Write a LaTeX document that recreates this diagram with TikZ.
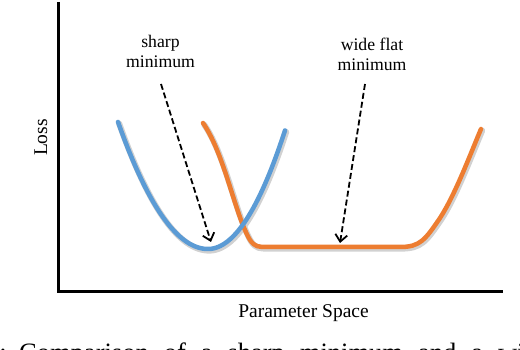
\documentclass[tikz,border=0pt]{standalone}
\usepackage{fontspec}
\setmainfont{Liberation Serif}
\usetikzlibrary{arrows.meta}
\definecolor{cblue}{HTML}{5B9BD5}
\definecolor{corange}{HTML}{ED7D31}
\begin{document}
\begin{tikzpicture}[x=1pt,y=-1pt,
  axis/.style={line width=3pt, line join=miter},
  curve/.style={line width=4.5pt, line cap=round},
  shadowline/.style={line width=6pt, black!18, line cap=round, shift={(1.2,1.6)}},
  annot/.style={font=\fontsize{17.7}{20}\selectfont, align=center, inner sep=0},
  pointer/.style={line width=1.8pt, dash pattern=on 6pt off 3pt, -{Straight Barb[length=7pt,width=12pt]}},
  axlabel/.style={font=\fontsize{19.5}{22}\selectfont, inner sep=0},
  captext/.style={font=\fontsize{26.5}{30}\selectfont, inner sep=0}]
\useasboundingbox (0,0) rectangle (520,350);
\clip (0,0) rectangle (520,350);

% axes
\coordinate (ytop) at (58,2);
\coordinate (orig) at (58,291);
\coordinate (xend) at (503,291);
\draw[axis] (ytop) -- (orig) -- (xend);

% shadows
\draw[shadowline] plot[domain=118:208, samples=50] (\x,{249-0.01568*(\x-208)^2})
  -- plot[domain=208:285, samples=50] (\x,{249-0.02*(\x-208)^2});
\draw[shadowline] (203,123) .. controls (225,155) and (235,215) .. (250,240)
  .. controls (255,247) and (258,247) .. (268,247) -- (400,247)
  .. controls (420,247) and (425,240) .. (440,218)
  .. controls (455,195) and (470,155) .. (481,129);

% orange: wide flat minimum
\draw[curve, corange] (203,123) .. controls (225,155) and (235,215) .. (250,240)
  .. controls (255,247) and (258,247) .. (268,247) -- (400,247)
  .. controls (420,247) and (425,240) .. (440,218)
  .. controls (455,195) and (470,155) .. (481,129);

% blue: sharp minimum
\draw[curve, cblue] plot[domain=118:208, samples=50] (\x,{249-0.01568*(\x-208)^2})
  -- plot[domain=208:285, samples=50] (\x,{249-0.02*(\x-208)^2});

% labels
\node[axlabel, rotate=90, anchor=base] (loss) at (47,137.5) {Loss};
\node[axlabel, anchor=base] (pspace) at (303.5,317) {Parameter Space};

\node[annot, anchor=north] (sharp) at (160.5,35.5) {sharp\\minimum};
\node[annot, anchor=north] (wide) at (372,37.5) {wide flat\\minimum};

\coordinate (s1) at (161,84);
\coordinate (s2) at (211,242);
\coordinate (w1) at (365,84);
\coordinate (w2) at (340,243);
\draw[pointer] (s1) -- (s2);
\draw[pointer] (w1) -- (w2);

% clipped caption
\node[captext, anchor=base east] (fignum) at (7,361) {1:};
\node[captext, anchor=base west] (cap) at (19,361) {\spaceskip=15pt\relax Comparison of a sharp minimum and a wide flat minimum};
\end{tikzpicture}
\end{document}
